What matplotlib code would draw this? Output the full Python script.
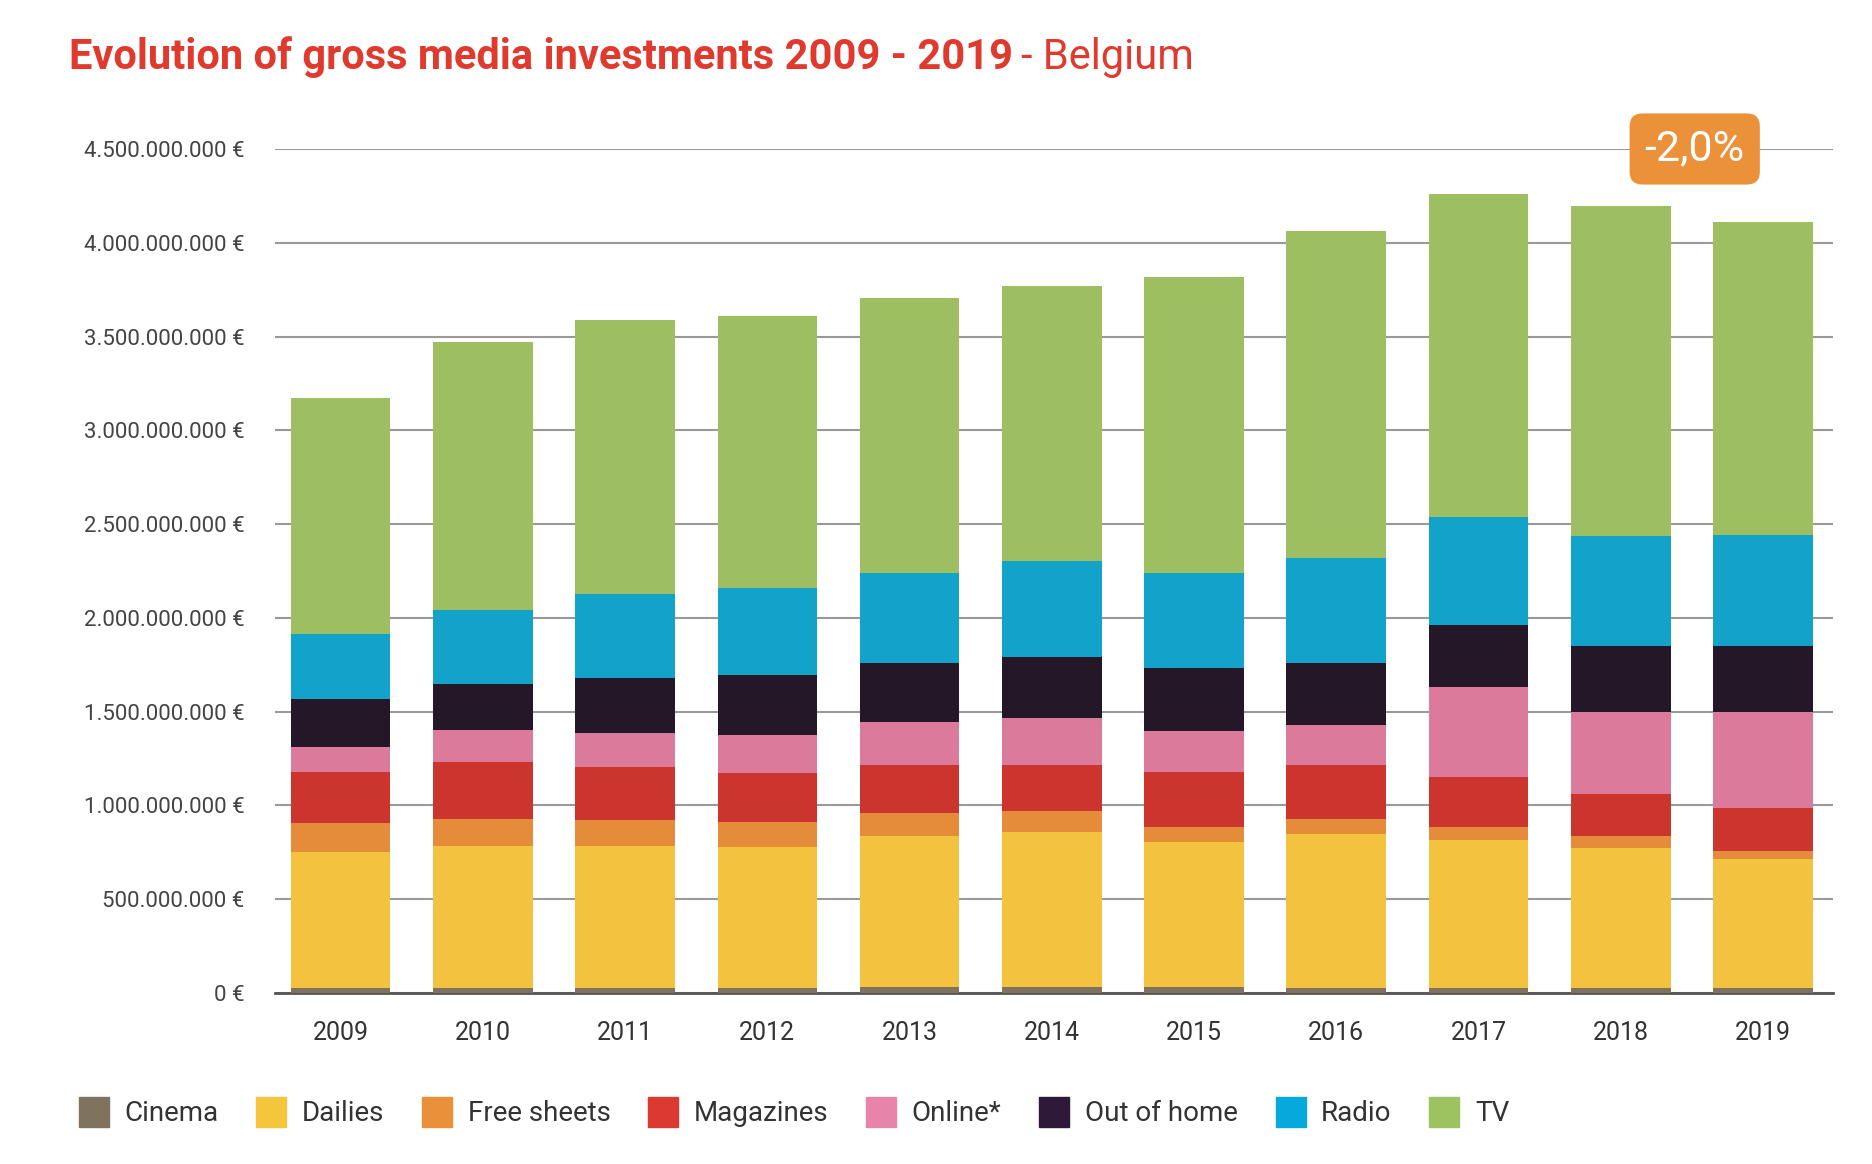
import matplotlib.pyplot as plt
from matplotlib.lines import Line2D
import numpy as np

plt.rcParams['font.family'] = ['Roboto', 'DejaVu Sans']

years = ['2009', '2010', '2011', '2012', '2013', '2014', '2015', '2016', '2017', '2018', '2019']

# valeurs en millions d'euros
cinema = [25, 25, 25, 25, 32, 32, 32, 25, 25, 25, 25]
dailies = [726, 758, 758, 752, 802, 827, 770, 822, 790, 745, 688]
free_sheets = [153, 146, 140, 133, 127, 109, 83, 82, 70, 64, 44]
magazines = [274, 300, 280, 261, 255, 248, 293, 287, 267, 229, 230]
online = [133, 171, 185, 204, 229, 248, 216, 210, 478, 433, 509]
out_of_home = [255, 249, 292, 318, 312, 325, 337, 331, 331, 356, 356]
radio = [350, 394, 446, 465, 484, 515, 510, 560, 579, 586, 592]
tv = [1254, 1426, 1464, 1451, 1464, 1464, 1578, 1744, 1718, 1757, 1668]

series = [
    ("Cinema", cinema, "#7f735f", "#7f735f"),
    ("Dailies", dailies, "#f3c340", "#f5c53c"),
    ("Free sheets", free_sheets, "#e58c3a", "#ea903a"),
    ("Magazines", magazines, "#cc342e", "#dc3a30"),
    ("Online*", online, "#dc7a9c", "#e884aa"),
    ("Out of home", out_of_home, "#231728", "#2e1a38"),
    ("Radio", radio, "#12a2ca", "#05a9dc"),
    ("TV", tv, "#9dbf62", "#9dc260"),
]

fig = plt.figure(figsize=(18.72, 11.64), dpi=100)
ax = fig.add_axes([0.147, 0.147, 0.832, 0.725])

x = np.arange(len(years))
bottom = np.zeros(len(years))
for nom, vals, col, _ in series:
    v = np.array(vals) * 1e6
    ax.bar(x, v, 0.7, bottom=bottom, color=col, zorder=3)
    bottom += v

ax.set_xlim(-0.46, 10.49)
ax.set_ylim(0, 4.5e9)
ticks = np.arange(0, 4.5e9 + 1, 5e8)
ax.set_yticks(ticks)
ax.set_yticklabels([f"{int(t):,} €".replace(",", ".") for t in ticks],
                   fontsize=16, color="#444444")
ax.set_xticks(x)
ax.set_xticklabels(years, fontsize=18, color="#333333")
ax.tick_params(axis='both', length=0)
ax.tick_params(axis='y', pad=22)
ax.tick_params(axis='x', pad=20)
ax.grid(axis='y', color="#999999", linewidth=1.5, zorder=0)
for s in ['top', 'right', 'left']:
    ax.spines[s].set_visible(False)
ax.spines['bottom'].set_color("#555555")
ax.spines['bottom'].set_linewidth(2)
ax.set_facecolor("none")

# étiquette -2,0%
ax.text(9.52, 4.5e9, "-2,0%", fontsize=31, color="white", ha="center", va="center",
        zorder=5, clip_on=False,
        bbox=dict(boxstyle="round,pad=0.35,rounding_size=0.3", fc="#eb913a", ec="none"))

# titre
t = fig.text(0.037, 0.951, "Evolution of gross media investments 2009 - 2019",
             fontsize=30, fontweight="bold", color="#e03a2e", va="center")
fig.canvas.draw()
bb = t.get_window_extent()
fig.text(bb.x1 / fig.bbox.width + 0.004, 0.951, "- Belgium", fontsize=30,
         color="#e03a2e", va="center")

handles = [Line2D([], [], marker='s', linestyle='none', markersize=22,
                  markerfacecolor=lc, markeredgecolor=lc) for _, _, _, lc in series]
fig.legend(handles, [s[0] for s in series], loc="center left",
           bbox_to_anchor=(0.022, 0.043), ncol=8, frameon=False, fontsize=20,
           handletextpad=0.1, columnspacing=0.9, labelcolor="#333333")

plt.savefig("out.png", dpi=100)
